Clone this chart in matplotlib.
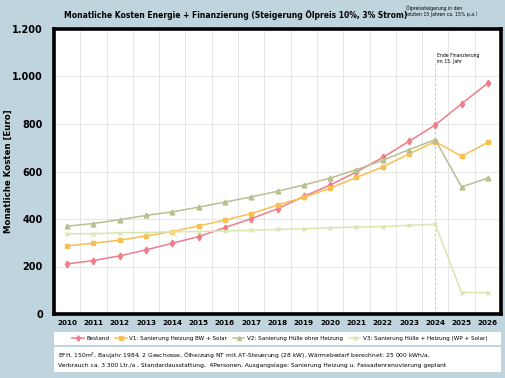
import matplotlib
matplotlib.use("Agg")
import matplotlib.pyplot as plt
from matplotlib.patches import Rectangle
from matplotlib.ticker import FuncFormatter

years = [str(y) for y in range(2010, 2027)]
bestand = [211, 225, 245, 270, 298, 326, 364, 401, 443, 495, 543, 598, 659, 727, 796, 885, 972]
v1 = [287, 298, 311, 329, 347, 371, 395, 423, 459, 491, 530, 575, 619, 674, 726, 664, 723]
v2 = [370, 381, 397, 415, 430, 450, 471, 493, 517, 543, 572, 608, 647, 692, 734, 535, 572]
v3 = [338, 338, 342, 343, 346, 347, 350, 352, 356, 359, 363, 366, 368, 373, 378, 90, 90]
series_names = ["Bestand", "V1: Sanierung Heizung BW + Solar",
                "V2: Sanierung Hülle ohne Heizung",
                "V3: Sanierung Hülle + Heizung (WP + Solar)"]

W, H = 506, 378
bg = "#c0d4de"
fig = plt.figure(figsize=(W / 100, H / 100), dpi=100, facecolor=bg)
plt.rcParams['font.family'] = ['DejaVu Sans']

def fx(px):
    return px / W

def fy(py):
    return 1 - py / H

ax = fig.add_axes([fx(54), fy(314), fx(501) - fx(54), fy(29) - fy(314)])
ax.set_facecolor("white")
x = list(range(len(years)))

styles = [
    (bestand, "#ee7d89", "d", 3.5),
    (v1, "#f8bf52", "s", 3.2),
    (v2, "#b9bf8f", "^", 3.5),
    (v3, "#d8e6b0", "x", 3.5),
]
handles = []
for (vals, col, mk, ms), name in zip(styles, series_names):
    h, = ax.plot(x, vals, color=col, marker=mk, markersize=ms, linewidth=1.1,
                 label=name, zorder=3)
    handles.append(h)

ax.set_xlim(-0.5, len(years) - 0.5)
ax.set_ylim(0, 1200)
ax.set_xticks(x)
ax.set_xticklabels(years, fontsize=5.2, fontweight="bold")
ax.set_yticks(range(0, 1201, 200))
ax.yaxis.set_major_formatter(FuncFormatter(lambda v, p: f"{int(v):,}".replace(",", ".")))
for lbl in ax.get_yticklabels():
    lbl.set_fontsize(7)
    lbl.set_fontweight("bold")
ax.tick_params(length=0, pad=4)
ax.tick_params(axis='y', pad=8)

# grid
for i in range(len(years) - 1):
    ax.axvline(i + 0.5, color="#e6e6e6", linewidth=0.7, zorder=0)
for yv in range(200, 1200, 200):
    ax.axhline(yv, color="#e6e6e6", linewidth=0.7, zorder=0)

ax.axvline(14, color="#c8c8c8", linewidth=0.7, linestyle=(0, (3, 2)), zorder=1, ymax=0.88)

for s in ax.spines.values():
    s.set_linewidth(2.6)
    s.set_color("black")

ax.text(14.05, 1075, "Ende Finanzierung\nim 15. Jahr", fontsize=3.3, va="center",
        ha="left", linespacing=1.4)

ax.set_ylabel("Monatliche Kosten [Euro]", fontsize=6.2, fontweight="bold", labelpad=6)
ax.yaxis.set_label_coords(-0.092, 0.5)

fig.text(fx(236), fy(15), "Monatliche Kosten Energie + Finanzierung (Steigerung Ölpreis 10%, 3% Strom)",
         fontsize=5.5, fontweight="bold", ha="center", va="center")
fig.text(fx(406), fy(11.5), "Ölpreissteigerung in den\nletzten 15 Jahren ca. 15% p.a.!",
         fontsize=3.3, ha="left", va="center", linespacing=1.3)

# legend box
fig.patches.append(Rectangle((fx(54), fy(345)), fx(501) - fx(54), fy(332) - fy(345),
                             transform=fig.transFigure, facecolor="white", edgecolor="none"))
fig.legend(handles=handles, loc="center", bbox_to_anchor=(fx(280), fy(338.5)), ncol=4,
           frameon=False, fontsize=4.1, handlelength=2.0, columnspacing=1.0,
           handletextpad=0.5, markerscale=0.8)

# footnote box
fig.patches.append(Rectangle((fx(54), fy(372)), fx(501) - fx(54), fy(347) - fy(372),
                             transform=fig.transFigure, facecolor="white", edgecolor="none"))
fig.text(fx(58), fy(359.5),
         "EFH, 150m$^2$, Baujahr 1984, 2 Geschosse, Ölheizung NT mit AT-Steuerung (28 kW), Wärmebedarf berechnet: 25 000 kWh/a,\n"
         "Verbrauch ca. 3 300 Ltr./a , Standardausstattung,  4Personen, Ausgangslage: Sanierung Heizung u. Fassadenrenovierung geplant",
         fontsize=4.3, ha="left", va="center", linespacing=1.5)

fig.savefig("out.png", dpi=100, facecolor=bg)
